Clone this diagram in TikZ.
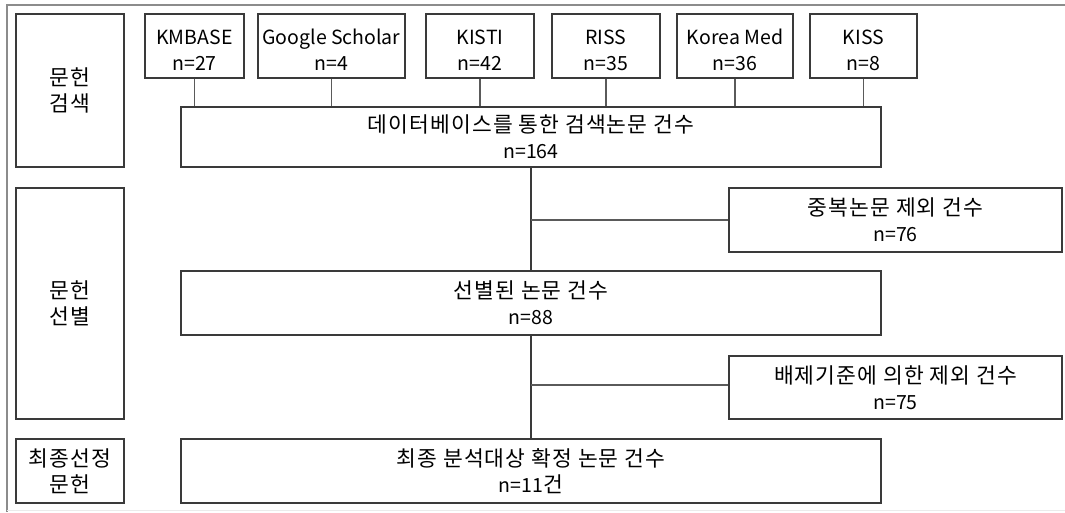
\documentclass[tikz,border=0pt]{standalone}
\usepackage{fontspec}
\setmainfont{Noto Sans CJK KR}
\newfontfamily\krfont[LetterSpace=5]{Noto Sans CJK KR}
\newcommand\kr{\krfont\fontsize{21.5}{27}\selectfont}
\newcommand\dn{\rule{0pt}{23pt}}
\begin{document}
\begin{tikzpicture}[x=1pt,y=-1pt,
  box/.style={draw=boxcol, line width=1.2pt, fill=white, inner sep=0pt, align=center,
    font=\fontsize{19.5}{26}\selectfont, text=black},
  conn/.style={draw=linecol, line width=1.2pt},
  frame/.style={draw=framecol, line width=2pt}]
\definecolor{boxcol}{HTML}{3A3A3A}
\definecolor{linecol}{HTML}{5A5A5A}
\definecolor{framecol}{HTML}{8C8C8C}
\useasboundingbox (0,0) rectangle (1065,512);
\fill[white] (0,0) rectangle (1065,512);
% outer frame
\coordinate (ftl) at (7,5);
\coordinate (ftr) at (1065,5);
\coordinate (fbl) at (7,512);
\draw[frame] (ftr) -- (ftl) -- (fbl);
\draw[draw=black!8, line width=1pt] (7,510) -- (1065,510);
% stage boxes
\node[box, minimum width=108pt, minimum height=153pt] (s1) at (70,90.5) {\kr 문헌\\\kr 검색};
\node[box, minimum width=108pt, minimum height=231pt] (s2) at (70,303.5) {\kr 문헌\\\kr 선별};
\node[box, minimum width=108pt, minimum height=64pt] (s3) at (70,471) {\kr 최종선정\\\kr 문헌};
% sources
\node[box, minimum width=99pt, minimum height=64pt] (kmbase) at (194.5,46) {\dn KMBASE\\n=27};
\node[box, minimum width=147pt, minimum height=64pt] (gs) at (331.5,46) {\dn Google Scholar\\n=4};
\node[box, minimum width=108pt, minimum height=64pt] (kisti) at (480,46) {\dn KISTI\\n=42};
\node[box, minimum width=108pt, minimum height=64pt] (riss) at (606,46) {\dn RISS\\n=35};
\node[box, minimum width=116pt, minimum height=64pt] (kmed) at (735,46) {\dn Korea Med\\n=36};
\node[box, minimum width=107pt, minimum height=64pt] (kiss) at (863.5,46) {\dn KISS\\n=8};
% main flow
\node[box, minimum width=700pt, minimum height=60pt] (db) at (531,137) {\kr 데이터베이스를 통한 검색논문 건수\\n=164};
\node[box, minimum width=700pt, minimum height=64pt] (sel) at (531,303) {\kr 선별된 논문 건수\\n=88};
\node[box, minimum width=700pt, minimum height=64pt] (fin) at (531,471) {\kr 최종 분석대상 확정 논문 건수\\n=11{\kr 건}};
\node[box, minimum width=333pt, minimum height=64pt] (ex1) at (895.5,220) {\kr 중복논문 제외 건수\\n=76};
\node[box, minimum width=333pt, minimum height=63pt] (ex2) at (895.5,387.5) {\kr 배제기준에 의한 제외 건수\\n=75};
% connectors
\draw[conn] (kmbase.south) -- (kmbase.south |- db.north);
\draw[conn] (gs.south) -- (gs.south |- db.north);
\draw[conn] (kisti.south) -- (kisti.south |- db.north);
\draw[conn] (riss.south) -- (riss.south |- db.north);
\draw[conn] (kmed.south) -- (kmed.south |- db.north);
\draw[conn] (kiss.south) -- (kiss.south |- db.north);
\draw[draw=boxcol, line width=1.2pt] (db.south) -- (sel.north);
\draw[draw=boxcol, line width=1.2pt] (sel.south) -- (fin.north);
\draw[conn] (ex1.west -| db.south) -- (ex1.west);
\draw[conn] ([yshift=2.5pt]ex2.west -| db.south) -- ([yshift=2.5pt]ex2.west);
\end{tikzpicture}
\end{document}
